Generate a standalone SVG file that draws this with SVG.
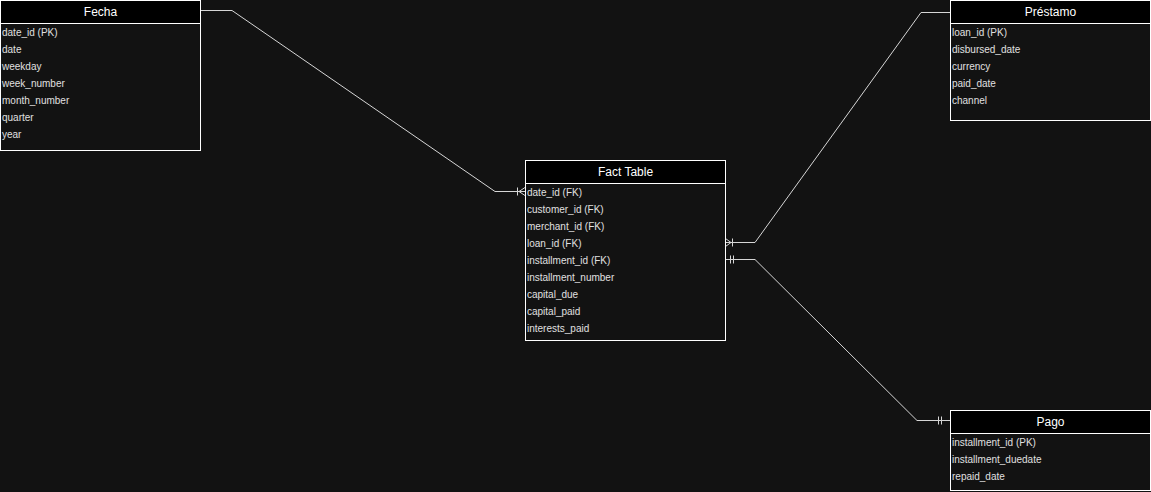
<svg xmlns="http://www.w3.org/2000/svg" width="1151" height="492" viewBox="0 0 1151 492">
<style>
.bg{fill:#121212}
.box{fill:#121212;stroke:#ffffff;stroke-width:1}
.hdr{fill:#000000;stroke:#ffffff;stroke-width:1}
.title{font-family:"Liberation Sans",Arial,sans-serif;font-size:12px;fill:#ffffff;text-anchor:middle;dominant-baseline:central}
.row{font-family:"Liberation Sans",Arial,sans-serif;font-size:10px;fill:#e0e0e0;dominant-baseline:central}
.conn{fill:none;stroke:#d6d6d6;stroke-width:1}
</style>
<rect class="bg" x="0" y="0" width="1151" height="492"/>

<g id="connectors">
  <!-- Fecha -> Fact -->
  <polyline class="conn" points="200.5,10.5 232,10.5 495,191.5 525,191.5"/>
  <path class="conn" d="M517.5,187.5 V195.5 M519,191.5 L525,187.5 M519,191.5 L525,195.5"/>
  <!-- Prestamo -> Fact -->
  <polyline class="conn" points="950,12.5 921,12.5 755,242.5 725.5,242.5"/>
  <path class="conn" d="M732.5,238.5 V246.5 M731,242.5 L725.5,238.5 M731,242.5 L725.5,246.5"/>
  <!-- Fact -> Pago -->
  <polyline class="conn" points="725.5,259.5 755,259.5 917,420.5 950,420.5"/>
  <path class="conn" d="M730.5,255.5 V263.5 M733.5,255.5 V263.5 M938.5,416.5 V424.5 M941.5,416.5 V424.5"/>
</g>

<g id="fecha">
  <rect class="box" x="0.5" y="0.5" width="200" height="150"/>
  <rect class="hdr" x="0.5" y="0.5" width="200" height="23"/>
  <text class="title" x="100.5" y="12">Fecha</text>
  <text class="row" x="2" y="32">date_id (PK)</text>
  <text class="row" x="2" y="49">date</text>
  <text class="row" x="2" y="66">weekday</text>
  <text class="row" x="2" y="83">week_number</text>
  <text class="row" x="2" y="100">month_number</text>
  <text class="row" x="2" y="117">quarter</text>
  <text class="row" x="2" y="134">year</text>
</g>

<g id="fact">
  <rect class="box" x="525.5" y="160.5" width="200" height="180"/>
  <rect class="hdr" x="525.5" y="160.5" width="200" height="23"/>
  <text class="title" x="625.5" y="172">Fact Table</text>
  <text class="row" x="527" y="192">date_id (FK)</text>
  <text class="row" x="527" y="209">customer_id (FK)</text>
  <text class="row" x="527" y="226">merchant_id (FK)</text>
  <text class="row" x="527" y="243">loan_id (FK)</text>
  <text class="row" x="527" y="260">installment_id (FK)</text>
  <text class="row" x="527" y="277">installment_number</text>
  <text class="row" x="527" y="294">capital_due</text>
  <text class="row" x="527" y="311">capital_paid</text>
  <text class="row" x="527" y="328">interests_paid</text>
</g>

<g id="prestamo">
  <rect class="box" x="950.5" y="0.5" width="200" height="120"/>
  <rect class="hdr" x="950.5" y="0.5" width="200" height="23"/>
  <text class="title" x="1050.5" y="12">Préstamo</text>
  <text class="row" x="952" y="32">loan_id (PK)</text>
  <text class="row" x="952" y="49">disbursed_date</text>
  <text class="row" x="952" y="66">currency</text>
  <text class="row" x="952" y="83">paid_date</text>
  <text class="row" x="952" y="100">channel</text>
</g>

<g id="pago">
  <rect class="box" x="950.5" y="410.5" width="200" height="80"/>
  <rect class="hdr" x="950.5" y="410.5" width="200" height="23"/>
  <text class="title" x="1050.5" y="422">Pago</text>
  <text class="row" x="952" y="442">installment_id (PK)</text>
  <text class="row" x="952" y="459">installment_duedate</text>
  <text class="row" x="952" y="476">repaid_date</text>
</g>
</svg>
